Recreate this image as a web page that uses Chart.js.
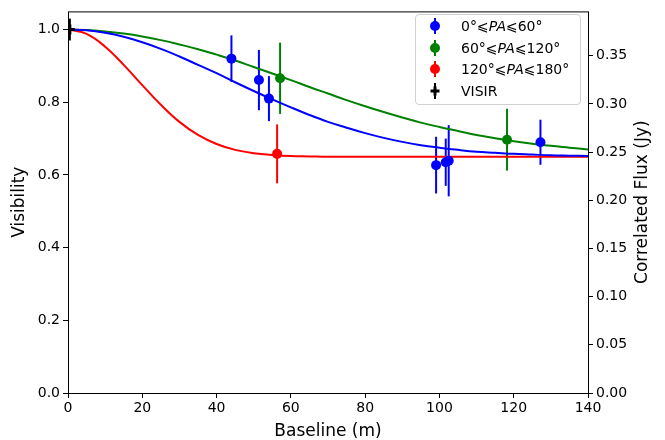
<!DOCTYPE html>
<html>
<head>
<meta charset="utf-8">
<script src="https://cdn.jsdelivr.net/npm/chart.js@4.4.0/dist/chart.umd.min.js"></script>
<style>
  body { margin: 0; background: #fff; }
  #wrap { position: relative; width: 665px; height: 440px; }
  #legend {
    position: absolute; left: 415px; top: 14px; width: 164px; height: 89px;
    border: 1px solid #d0d0d0; border-radius: 4px; background: rgba(255,255,255,0.8);
    font-family: "DejaVu Sans", sans-serif; font-size: 14px; color: #000;
  }
  .row { position: absolute; left: 0; height: 22px; display: flex; align-items: center; }
  .row svg { margin-left: 12px; margin-right: 19px; }
  .row i { font-style: italic; }
</style>
</head>
<body>
<div id="wrap">
  <canvas id="chart" width="665" height="440"></canvas>
  <div id="legend"></div>
</div>
<script>
// model curves (visibility vs baseline)
const baseline = [0, 5, 10, 15, 20, 25, 30, 35, 40, 45, 50, 55, 60, 65, 70,
  75, 80, 85, 90, 95, 100, 105, 110, 115, 120, 125, 130, 135, 140];
const fitBlue = [1.000, 0.998, 0.991, 0.980, 0.965, 0.947, 0.926, 0.903, 0.880, 0.855,
  0.831, 0.808, 0.786, 0.765, 0.746, 0.730, 0.715, 0.702, 0.691, 0.682, 0.675,
  0.669, 0.664, 0.661, 0.658, 0.656, 0.654, 0.653, 0.652];
const fitGreen = [1.000, 0.999, 0.995, 0.989, 0.981, 0.971, 0.959, 0.946, 0.931, 0.915,
  0.897, 0.879, 0.861, 0.842, 0.824, 0.806, 0.789, 0.773, 0.758, 0.744, 0.732,
  0.721, 0.710, 0.701, 0.693, 0.686, 0.680, 0.675, 0.670];
const fitRed = [1.000, 0.988, 0.953, 0.903, 0.847, 0.793, 0.746, 0.710, 0.685, 0.669,
  0.660, 0.655, 0.652, 0.651, 0.650, 0.650, 0.650, 0.650, 0.650, 0.650, 0.650,
  0.650, 0.650, 0.650, 0.650, 0.650, 0.650, 0.650, 0.650];

// measured points with error bars
const blueB = [44.0, 51.4, 54.1, 99.1, 101.7, 102.5, 127.2];
const blueV = [0.920, 0.861, 0.810, 0.627, 0.635, 0.639, 0.690];
const blueErr = [0.064, 0.083, 0.062, 0.078, 0.065, 0.098, 0.062];
const greenB = [57.1, 118.2];
const greenV = [0.866, 0.697];
const greenErr = [0.098, 0.085];
const redB = [56.3];
const redV = [0.658];
const redErr = [0.081];
const visirB = [0.5];
const visirV = [1.0];
const visirErr = [0.03];

const xTicks = [0, 20, 40, 60, 80, 100, 120, 140];
const visTicks = [0, 0.2, 0.4, 0.6, 0.8, 1.0];
const fluxTicks = [0, 0.05, 0.1, 0.15, 0.2, 0.25, 0.3, 0.35];

const legendItems = [
  { color: "#0000ff", html: "0°⩽<i>PA</i>⩽60°" },
  { color: "#008000", html: "60°⩽<i>PA</i>⩽120°" },
  { color: "#ff0000", html: "120°⩽<i>PA</i>⩽180°" },
  { color: "#000000", html: "VISIR", cross: true },
];

const toXY = (xs, ys) => xs.map((x, i) => ({ x: x, y: ys[i] }));

function curve(color, ys) {
  return {
    type: "line", data: toXY(baseline, ys), borderColor: color, borderWidth: 2,
    pointRadius: 0, tension: 0.4, fill: false, yAxisID: "y", order: 2,
  };
}
function points(color, xs, ys, errs, style) {
  return {
    type: "scatter", data: toXY(xs, ys), errors: errs,
    backgroundColor: color, borderColor: color,
    pointStyle: style || "circle", pointRadius: 5,
    borderWidth: style ? 3 : 0, yAxisID: "y", order: 1,
  };
}

const errorBars = {
  id: "errorBars",
  beforeDatasetsDraw(chart) {
    const ctx = chart.ctx;
    const xs = chart.scales.x, ys = chart.scales.y;
    chart.data.datasets.forEach((ds) => {
      if (!ds.errors) return;
      ctx.save();
      ctx.strokeStyle = ds.borderColor;
      ctx.lineWidth = 2;
      ds.data.forEach((p, i) => {
        const px = xs.getPixelForValue(p.x);
        ctx.beginPath();
        ctx.moveTo(px, ys.getPixelForValue(p.y + ds.errors[i]));
        ctx.lineTo(px, ys.getPixelForValue(p.y - ds.errors[i]));
        ctx.stroke();
      });
      ctx.restore();
    });
  },
  afterDraw(chart) {
    const ctx = chart.ctx, a = chart.chartArea;
    ctx.save();
    ctx.strokeStyle = "#000";
    ctx.lineWidth = 1;
    ctx.strokeRect(a.left + 0.5, a.top + 0.5, a.right - a.left, a.bottom - a.top);
    // right axis title reads bottom to top
    ctx.translate(643, (a.top + a.bottom) / 2);
    ctx.rotate(-Math.PI / 2);
    ctx.font = "17px 'DejaVu Sans'";
    ctx.fillStyle = "#000";
    ctx.textAlign = "center";
    ctx.textBaseline = "middle";
    ctx.fillText("Correlated Flux (Jy)", 0, 0);
    ctx.restore();
  },
};

Chart.defaults.font.family = "'DejaVu Sans', sans-serif";
Chart.defaults.color = "#000";

const tickGrid = { drawOnChartArea: false, drawTicks: true, tickLength: 5, color: "#000" };

new Chart(document.getElementById("chart"), {
  data: {
    datasets: [
      curve("#0000ff", fitBlue),
      curve("#008000", fitGreen),
      curve("#ff0000", fitRed),
      points("#0000ff", blueB, blueV, blueErr),
      points("#008000", greenB, greenV, greenErr),
      points("#ff0000", redB, redV, redErr),
      points("#000000", visirB, visirV, visirErr, "cross"),
    ],
  },
  options: {
    responsive: false,
    animation: false,
    layout: { padding: { top: 7, left: 0, right: 0, bottom: 0 } },
    plugins: { legend: { display: false }, tooltip: { enabled: false } },
    scales: {
      x: {
        type: "linear", min: 0, max: 140,
        afterFit: (s) => { s.height = 47; },
        afterBuildTicks: (s) => { s.ticks = xTicks.map((v) => ({ value: v })); },
        ticks: { font: { size: 14 }, padding: 2, maxRotation: 0, callback: (v) => v },
        grid: tickGrid,
        border: { display: false },
        title: { display: true, text: "Baseline (m)", font: { size: 17 }, padding: { top: 0, bottom: -2 } },
      },
      y: {
        type: "linear", position: "left", min: 0, max: 1.05,
        afterFit: (s) => { s.width = 68; },
        afterBuildTicks: (s) => { s.ticks = visTicks.map((v) => ({ value: v })); },
        ticks: { font: { size: 14 }, padding: 3, callback: (v) => v.toFixed(1) },
        grid: tickGrid,
        border: { display: false },
        title: { display: true, text: "Visibility", font: { size: 17 }, padding: { top: 9, bottom: 0 } },
      },
      flux: {
        type: "linear", position: "right", min: 0, max: 0.396,
        afterFit: (s) => { s.width = 77; },
        afterBuildTicks: (s) => { s.ticks = fluxTicks.map((v) => ({ value: v })); },
        ticks: { font: { size: 14 }, padding: 3, callback: (v) => v.toFixed(2) },
        grid: tickGrid,
        border: { display: false },
      },
    },
  },
  plugins: [errorBars],
});

// legend with italic PA, drawn as html text
const legend = document.getElementById("legend");
legendItems.forEach((item, i) => {
  const row = document.createElement("div");
  row.className = "row";
  row.style.top = (0 + i * 21.7) + "px";
  const mark = item.cross
    ? `<line x1="7" y1="3" x2="7" y2="19" stroke="#000" stroke-width="2"/>
       <line x1="2.5" y1="11" x2="11.5" y2="11" stroke="#000" stroke-width="3"/>
       <line x1="7" y1="6.5" x2="7" y2="15.5" stroke="#000" stroke-width="3"/>`
    : `<line x1="7" y1="3" x2="7" y2="19" stroke="${item.color}" stroke-width="2"/>
       <circle cx="7" cy="11" r="5" fill="${item.color}"/>`;
  row.innerHTML = `<svg width="14" height="22">${mark}</svg><span>${item.html}</span>`;
  legend.appendChild(row);
});
</script>
</body>
</html>
